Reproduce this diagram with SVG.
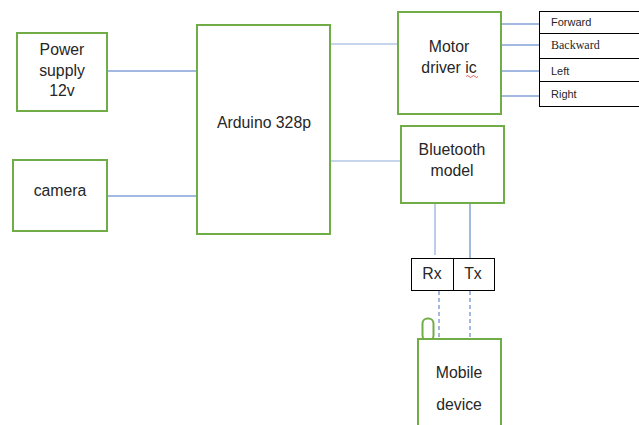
<svg xmlns="http://www.w3.org/2000/svg" width="639" height="425" viewBox="0 0 639 425">
<style>
.box{fill:#fff;stroke:#70AD47;stroke-width:2}
.out{fill:#fff;stroke:#000;stroke-width:1}
.ln{stroke:#4472C4;stroke-width:1;fill:none}
.lnl{stroke:#8FAADC;stroke-width:1.2;fill:none}
.dash{stroke:#4472C4;stroke-width:1;stroke-dasharray:4 3;fill:none}
text{font-family:"Liberation Sans",Arial,sans-serif;font-size:15.8px;fill:#262626;text-anchor:middle}
.sm{font-size:11px;text-anchor:start}
.serif{font-family:"Liberation Serif","Times New Roman",serif;font-size:12px}
</style>
<rect width="639" height="425" fill="#fff"/>
<g id="connectors">
<line class="ln" x1="107" y1="71" x2="197" y2="71"/>
<line class="ln" x1="107" y1="196" x2="197" y2="196"/>
<line class="lnl" x1="330" y1="44" x2="398" y2="44"/>
<line class="lnl" x1="330" y1="161" x2="401" y2="161"/>
<line class="ln" x1="501" y1="24" x2="539" y2="24"/>
<line class="ln" x1="501" y1="45" x2="539" y2="45"/>
<line class="ln" x1="501" y1="71" x2="539" y2="71"/>
<line class="ln" x1="501" y1="96" x2="539" y2="96"/>
<line class="lnl" x1="435" y1="204" x2="435" y2="255"/>
<line class="ln" x1="470" y1="204" x2="470" y2="258"/>
<line class="dash" x1="439" y1="291" x2="439" y2="338"/>
<line class="dash" x1="470" y1="291" x2="470" y2="338"/>
</g>
<g id="power">
<rect class="box" x="17" y="33" width="90" height="78"/>
<text x="62" y="55">Power</text>
<text x="62" y="76">supply</text>
<text x="62" y="96">12v</text>
</g>
<g id="camera">
<rect class="box" x="13" y="160" width="94" height="71"/>
<text x="60" y="196">camera</text>
</g>
<g id="arduino">
<rect class="box" x="197" y="25" width="133" height="209"/>
<text x="264" y="128">Arduino 328p</text>
</g>
<g id="motor">
<rect class="box" x="398" y="12" width="103" height="102"/>
<text x="449" y="52">Motor</text>
<text x="449" y="73">driver ic</text>
<path d="M466,76.5 q1.5,-2 3,0 t3,0 t3,0 t3,0" fill="none" stroke="#E03030" stroke-width="0.8"/>
</g>
<g id="forward">
<rect class="out" x="539.5" y="11.5" width="110" height="22"/>
<text class="sm" x="551" y="26">Forward</text>
</g>
<g id="backward">
<rect class="out" x="539.5" y="33.5" width="110" height="25"/>
<text class="sm serif" x="551" y="49">Backward</text>
</g>
<g id="left">
<rect class="out" x="539.5" y="58.5" width="110" height="23"/>
<text class="sm" x="551" y="75">Left</text>
</g>
<g id="right">
<rect class="out" x="539.5" y="81.5" width="110" height="25"/>
<text class="sm" x="551" y="98">Right</text>
</g>
<g id="bluetooth">
<rect class="box" x="401" y="126" width="103" height="77"/>
<text x="452" y="155">Bluetooth</text>
<text x="452" y="176">model</text>
</g>
<g id="rx">
<rect class="out" x="411.5" y="258.5" width="42" height="32"/>
<text x="432" y="279">Rx</text>
</g>
<g id="tx">
<rect class="out" x="453.5" y="258.5" width="41" height="32"/>
<text x="473" y="279">Tx</text>
</g>
<g id="antenna">
<rect x="422.5" y="318.5" width="11" height="22" rx="5" fill="none" stroke="#70AD47" stroke-width="2"/>
</g>
<g id="mobile">
<rect class="box" x="418" y="339" width="83" height="100"/>
<text x="459" y="378">Mobile</text>
<text x="459" y="410">device</text>
</g>
</svg>
